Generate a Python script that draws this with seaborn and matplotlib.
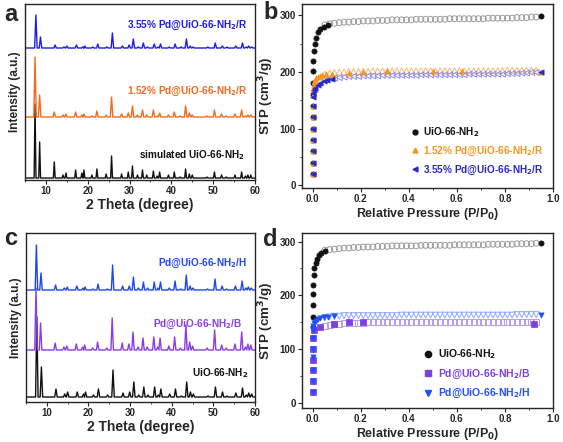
import numpy as np
import matplotlib
matplotlib.use("Agg")
import matplotlib.pyplot as plt
from matplotlib.lines import Line2D
from matplotlib.ticker import MultipleLocator
import seaborn as sns

sns.set_style("ticks")
plt.rcParams['font.family'] = ['Liberation Sans', 'DejaVu Sans']
plt.rcParams['font.weight'] = 'bold'
plt.rcParams['axes.labelweight'] = 'bold'
plt.rcParams['mathtext.default'] = 'bf'

# ---------------- XRD data (peak positions in 2theta, heights in a.u.) ----------------
peak_pos = [7.4, 8.5, 12.0, 14.1, 14.8, 17.1, 18.6, 19.1, 21.0, 22.2, 24.4, 25.7, 28.1, 29.7,
            30.7, 31.9, 33.1, 34.1, 35.7, 36.6, 37.2, 39.3, 40.7, 42.1, 43.4, 44.3, 45.0,
            48.5, 50.3, 52.0, 53.1, 55.2, 56.8, 57.7, 58.3, 59.0]

# panel a
sim_h = [74, 36, 16, 3, 5, 8, 5, 8, 3, 9, 4, 22, 4, 6, 12, 3, 8, 3, 7, 2, 6, 3, 6, 1, 9, 4, 3,
         1, 6, 3, 1, 3, 6, 2, 3, 3]
pd152_h = [60, 22, 5, 2, 3, 5, 2, 3, 1, 6, 2, 20, 3, 4, 11, 2, 7, 2, 7, 1, 4, 2, 5, 1, 11, 4, 2,
           1, 7, 3, 1, 3, 7, 1, 2, 2]
pd355_h = [33, 11, 3, 1, 2, 3, 1, 2, 1, 4, 1, 15, 2, 3, 9, 1, 5, 1, 4, 1, 4, 1, 4, 1, 9, 2, 1,
           1, 5, 2, 1, 2, 5, 1, 2, 1]
# panel c
uio_h = [80, 30, 8, 3, 5, 5, 3, 5, 2, 8, 2, 27, 4, 5, 15, 2, 10, 2, 10, 2, 8, 3, 8, 1, 15, 5, 3,
         1, 10, 5, 1, 4, 9, 2, 4, 3]
pdB_h = [62, 27, 7, 3, 4, 6, 3, 5, 2, 8, 2, 32, 7, 6, 18, 3, 12, 3, 13, 3, 12, 4, 13, 2, 25, 8, 4,
         2, 20, 5, 2, 6, 18, 3, 6, 5]
pdH_h = [45, 17, 5, 2, 3, 4, 2, 3, 1, 6, 1, 25, 4, 4, 13, 2, 8, 2, 8, 2, 8, 2, 9, 1, 15, 4, 2,
         1, 11, 4, 1, 4, 9, 2, 3, 2]

xrd_labels_a = ["3.55% Pd@UiO-66-NH$_2$/R", "1.52% Pd@UiO-66-NH$_2$/R", "simulated UiO-66-NH$_2$"]
xrd_labels_c = ["Pd@UiO-66-NH$_2$/H", "Pd@UiO-66-NH$_2$/B", "UiO-66-NH$_2$"]

# ---------------- isotherm data ----------------
P_des = [0.05, 0.07, 0.09, 0.11, 0.13, 0.15, 0.17, 0.19, 0.21, 0.23, 0.25, 0.27, 0.29, 0.31, 0.33,
         0.35, 0.37, 0.39, 0.41, 0.43, 0.45, 0.47, 0.49, 0.51, 0.53, 0.55, 0.57, 0.59, 0.61, 0.63,
         0.65, 0.67, 0.69, 0.71, 0.73, 0.75, 0.77, 0.79, 0.81, 0.83, 0.85, 0.87, 0.89, 0.91, 0.93]

uio_des = [283, 285, 286, 287, 288, 288, 289, 289, 290, 290, 290, 291, 291, 291, 292, 292, 292, 292,
           292, 293, 293, 293, 293, 293, 293, 293, 294, 294, 294, 294, 294, 294, 294, 294, 295, 295,
           295, 295, 295, 295, 296, 296, 296, 297, 297]
uio_ads_P = [0, 0, 0, 0, 0, 0, 0, 0, 0, 0, 0.001, 0.003, 0.008, 0.013, 0.02, 0.03, 0.045, 0.065, 0.95]
uio_ads_V = [20, 40, 60, 80, 100, 120, 140, 160, 180, 202, 220, 237, 250, 260, 270, 276, 280, 283, 298]

pd152_ads_P = [0, 0, 0, 0, 0, 0, 0, 0, 0.001, 0.003, 0.006, 0.01, 0.015, 0.02, 0.03, 0.04, 0.055,
               0.08, 0.15, 0.21, 0.31, 0.5, 0.62, 0.95]
pd152_ads_V = [20, 40, 60, 80, 100, 120, 140, 160, 170, 177, 182, 186, 189, 191, 193, 195, 196,
               197, 199, 200, 201, 201, 201, 200]
pd152_des = [196, 198, 199, 200, 200, 201, 201, 201, 201, 201, 202, 202, 202, 202, 202, 202, 202,
             202, 202, 202, 202, 202, 202, 202, 202, 202, 202, 202, 202, 202, 202, 202, 202, 202,
             202, 202, 202, 202, 203, 203, 203, 203, 203, 203, 203]

pd355_ads_P = [0, 0, 0, 0, 0, 0, 0, 0, 0.002, 0.005, 0.01, 0.02, 0.03, 0.045, 0.06, 0.08, 0.95]
pd355_ads_V = [20, 40, 60, 80, 100, 120, 140, 155, 163, 168, 172, 177, 181, 184, 186, 188, 200]
pd355_des = [186, 188, 189, 190, 191, 192, 192, 192, 193, 193, 193, 193, 194, 194, 194, 194, 194,
             194, 194, 194, 195, 195, 195, 195, 195, 195, 195, 195, 195, 195, 196, 196, 196, 196,
             196, 196, 196, 196, 197, 197, 197, 198, 198, 199, 199]

uio2_ads_P = [0, 0, 0, 0, 0, 0, 0, 0, 0, 0, 0.001, 0.003, 0.007, 0.012, 0.018, 0.025, 0.035, 0.05, 0.95]
uio2_ads_V = [20, 40, 60, 80, 100, 120, 140, 160, 182, 202, 220, 237, 250, 260, 268, 275, 278, 282, 297]
uio2_des = [284, 285, 286, 287, 288, 288, 289, 289, 290, 290, 290, 291, 291, 291, 292, 292, 292, 292,
            292, 292, 293, 293, 293, 293, 293, 293, 293, 294, 294, 294, 294, 294, 294, 294, 295, 295,
            295, 295, 295, 295, 296, 296, 296, 296, 297]

pdB_ads_P = [0, 0, 0, 0, 0, 0, 0.003, 0.03, 0.09, 0.15, 0.21, 0.92]
pdB_ads_V = [20, 40, 60, 80, 100, 120, 135, 140, 147, 150, 150, 147]
pdB_des = [143, 145, 146, 147, 148, 148, 149, 149, 149, 150, 150, 150, 150, 150, 150, 150, 150,
           150, 150, 150, 150, 150, 150, 150, 150, 150, 150, 150, 150, 150, 150, 150, 150, 150,
           150, 150, 150, 150, 150, 150, 150, 150, 150, 150, 150]

pdH_ads_P = [0, 0, 0, 0, 0, 0, 0, 0.002, 0.006, 0.012, 0.02, 0.03, 0.045, 0.065, 0.09, 0.95]
pdH_ads_V = [20, 40, 60, 85, 100, 120, 135, 142, 148, 152, 155, 157, 159, 160, 161, 164]
pdH_des = [158, 160, 161, 161, 162, 162, 162, 162, 162, 162, 162, 162, 162, 162, 162, 162, 163, 163,
           163, 163, 163, 163, 163, 163, 163, 163, 163, 163, 163, 163, 163, 163, 163, 163, 163, 163,
           163, 163, 163, 163, 164, 164, 164, 164, 164]

iso_labels_b = ["UiO-66-NH$_2$", "1.52% Pd@UiO-66-NH$_2$/R", "3.55% Pd@UiO-66-NH$_2$/R"]
iso_labels_d = ["UiO-66-NH$_2$", "Pd@UiO-66-NH$_2$/B", "Pd@UiO-66-NH$_2$/H"]


def profile(pos, heights, base, shift=0.0, w=0.3):
    xs, ys = [5.0], [base]
    for p, h in zip(pos, heights):
        p = p + shift
        xs += [p - w, p, p + w]
        ys += [base, base + h, base]
    xs.append(60.0)
    ys.append(base)
    return np.array(xs), np.array(ys)


fig = plt.figure(figsize=(5.63, 4.42), dpi=100)
W, H = 563.0, 442.0


def add_ax(l, t, r, b):
    return fig.add_axes([l / W, 1 - b / H, (r - l) / W, (b - t) / H])


axa = add_ax(25, 4, 255, 180)
axb = add_ax(302, 4, 553, 188)
axc = add_ax(26, 233, 255, 402)
axd = add_ax(302, 233, 553, 408)

TICK = 7
TXT = 7.2


def style_xrd(ax, top):
    ax.set_xlim(5, 60)
    ax.set_ylim(0, top)
    ax.set_yticks([])
    ax.xaxis.set_major_locator(MultipleLocator(10))
    ax.xaxis.set_minor_locator(MultipleLocator(5))
    ax.tick_params(axis='x', which='major', direction='out', length=3, width=0.8, labelsize=TICK, pad=1.5)
    ax.tick_params(axis='x', which='minor', direction='out', length=1.5, width=0.6)
    ax.set_xlabel("2 Theta (degree)", fontsize=10, labelpad=1)
    ax.set_ylabel("Intensity (a.u.)", fontsize=8.6, labelpad=3)
    for s in ax.spines.values():
        s.set_linewidth(1.0)
        s.set_visible(True)


# ---- panel a ----
for (h, base, col, sh, w) in [(sim_h, 2, '#111111', 0.0, 0.22), (pd152_h, 63, '#F26A1B', 0.0, 0.3),
                              (pd355_h, 132, '#1C1CE8', 0.2, 0.3)]:
    x, y = profile(peak_pos, h, base, sh, w)
    sns.lineplot(x=x, y=y, ax=axa, color=col, lw=1.0, sort=False, estimator=None)
style_xrd(axa, 176)
axa.text(29.4, 155, xrd_labels_a[0], color='#1C1CE8', fontsize=TXT, va='center', fontweight='bold')
axa.text(29.4, 89, xrd_labels_a[1], color='#F26A1B', fontsize=TXT, va='center', fontweight='bold')
axa.text(32.3, 25, xrd_labels_a[2], color='#111111', fontsize=TXT, va='center', fontweight='bold')

# ---- panel c ----
for (h, base, col, sh, w) in [(uio_h, 5, '#111111', 0.2, 0.3), (pdB_h, 52, '#8A3CE8', 0.0, 0.3),
                              (pdH_h, 112, '#1F45F5', 0.1, 0.3)]:
    x, y = profile(peak_pos, h, base, sh, w)
    sns.lineplot(x=x, y=y, ax=axc, color=col, lw=1.0, sort=False, estimator=None)
style_xrd(axc, 169)
axc.text(36.7, 139, xrd_labels_c[0], color='#1F45F5', fontsize=TXT, va='center', fontweight='bold')
axc.text(35.5, 78, xrd_labels_c[1], color='#8A3CE8', fontsize=TXT, va='center', fontweight='bold')
axc.text(44.9, 29, xrd_labels_c[2], color='#111111', fontsize=TXT, va='center', fontweight='bold')


def style_iso(ax, ylo, yhi):
    ax.set_xlim(-0.045, 1.0)
    ax.set_ylim(ylo, yhi)
    ax.xaxis.set_major_locator(MultipleLocator(0.2))
    ax.xaxis.set_minor_locator(MultipleLocator(0.1))
    ax.yaxis.set_major_locator(MultipleLocator(100))
    ax.yaxis.set_minor_locator(MultipleLocator(50))
    ax.set_xticks([0, 0.2, 0.4, 0.6, 0.8, 1.0])
    ax.set_xticklabels(["0.0", "0.2", "0.4", "0.6", "0.8", "1.0"])
    ax.tick_params(which='major', direction='out', length=3, width=0.8, labelsize=TICK, pad=1.5)
    ax.tick_params(which='minor', direction='out', length=1.5, width=0.6)
    ax.set_xlabel("Relative Pressure (P/P$_0$)", fontsize=8.9, labelpad=1)
    ax.set_ylabel("STP (cm$^3$/g)", fontsize=9.6, labelpad=2.5)
    for s in ax.spines.values():
        s.set_linewidth(1.0)
        s.set_visible(True)


def iso(ax, adsP, adsV, desV, marker, col, light, s_f=14, s_o=18):
    sns.scatterplot(x=P_des, y=desV, ax=ax, marker=marker, s=s_o, facecolors='none',
                    edgecolor=light, linewidth=0.7, legend=False, zorder=2)
    sns.scatterplot(x=adsP, y=adsV, ax=ax, marker=marker, s=s_f, color=col,
                    edgecolor=col, linewidth=0.5, legend=False, zorder=3)


# ---- panel b ----
iso(axb, uio_ads_P, uio_ads_V, uio_des, 'o', '#111111', '#9A9A9A')
iso(axb, pd152_ads_P, pd152_ads_V, pd152_des, '^', '#F7941D', '#F9B878')
iso(axb, pd355_ads_P, pd355_ads_V, pd355_des, '<', '#2828C8', '#8E8EE6')
style_iso(axb, -5, 320)
hb = [Line2D([], [], ls='', marker='o', color='#111111', ms=3.5),
      Line2D([], [], ls='', marker='^', color='#F7941D', ms=3.5),
      Line2D([], [], ls='', marker='<', color='#2828C8', ms=3.5)]
axb.legend(hb, iso_labels_b, loc='lower left', bbox_to_anchor=(0.42, 0.04), frameon=False,
           fontsize=TXT, handlelength=0.8, handletextpad=0.4, labelspacing=0.55,
           labelcolor=['#111111', '#F7941D', '#2828C8'], borderaxespad=0)

# ---- panel d ----
iso(axd, uio2_ads_P, uio2_ads_V, uio2_des, 'o', '#111111', '#9A9A9A')
iso(axd, pdB_ads_P, pdB_ads_V, pdB_des, 's', '#7B3FE4', '#B79AF0')
iso(axd, pdH_ads_P, pdH_ads_V, pdH_des, 'v', '#1F4FFF', '#8FA8FF')
style_iso(axd, -10, 316)
hd = [Line2D([], [], ls='', marker='o', color='#111111', ms=4.5),
      Line2D([], [], ls='', marker='s', color='#7B3FE4', ms=4),
      Line2D([], [], ls='', marker='v', color='#1F4FFF', ms=4.5)]
axd.legend(hd, iso_labels_d, loc='lower left', bbox_to_anchor=(0.47, 0.02), frameon=False,
           fontsize=7.5, handlelength=0.8, handletextpad=0.5, labelspacing=0.6,
           labelcolor=['#111111', '#7B3FE4', '#1F4FFF'], borderaxespad=0)

# panel letters
for lab, x, y in [("a", 4, 3), ("b", 263, 1), ("c", 4, 227), ("d", 263, 228)]:
    fig.text(x / W, 1 - y / H, lab, fontsize=17, fontweight='bold', va='top', ha='left')

fig.savefig("out.png", dpi=100)
